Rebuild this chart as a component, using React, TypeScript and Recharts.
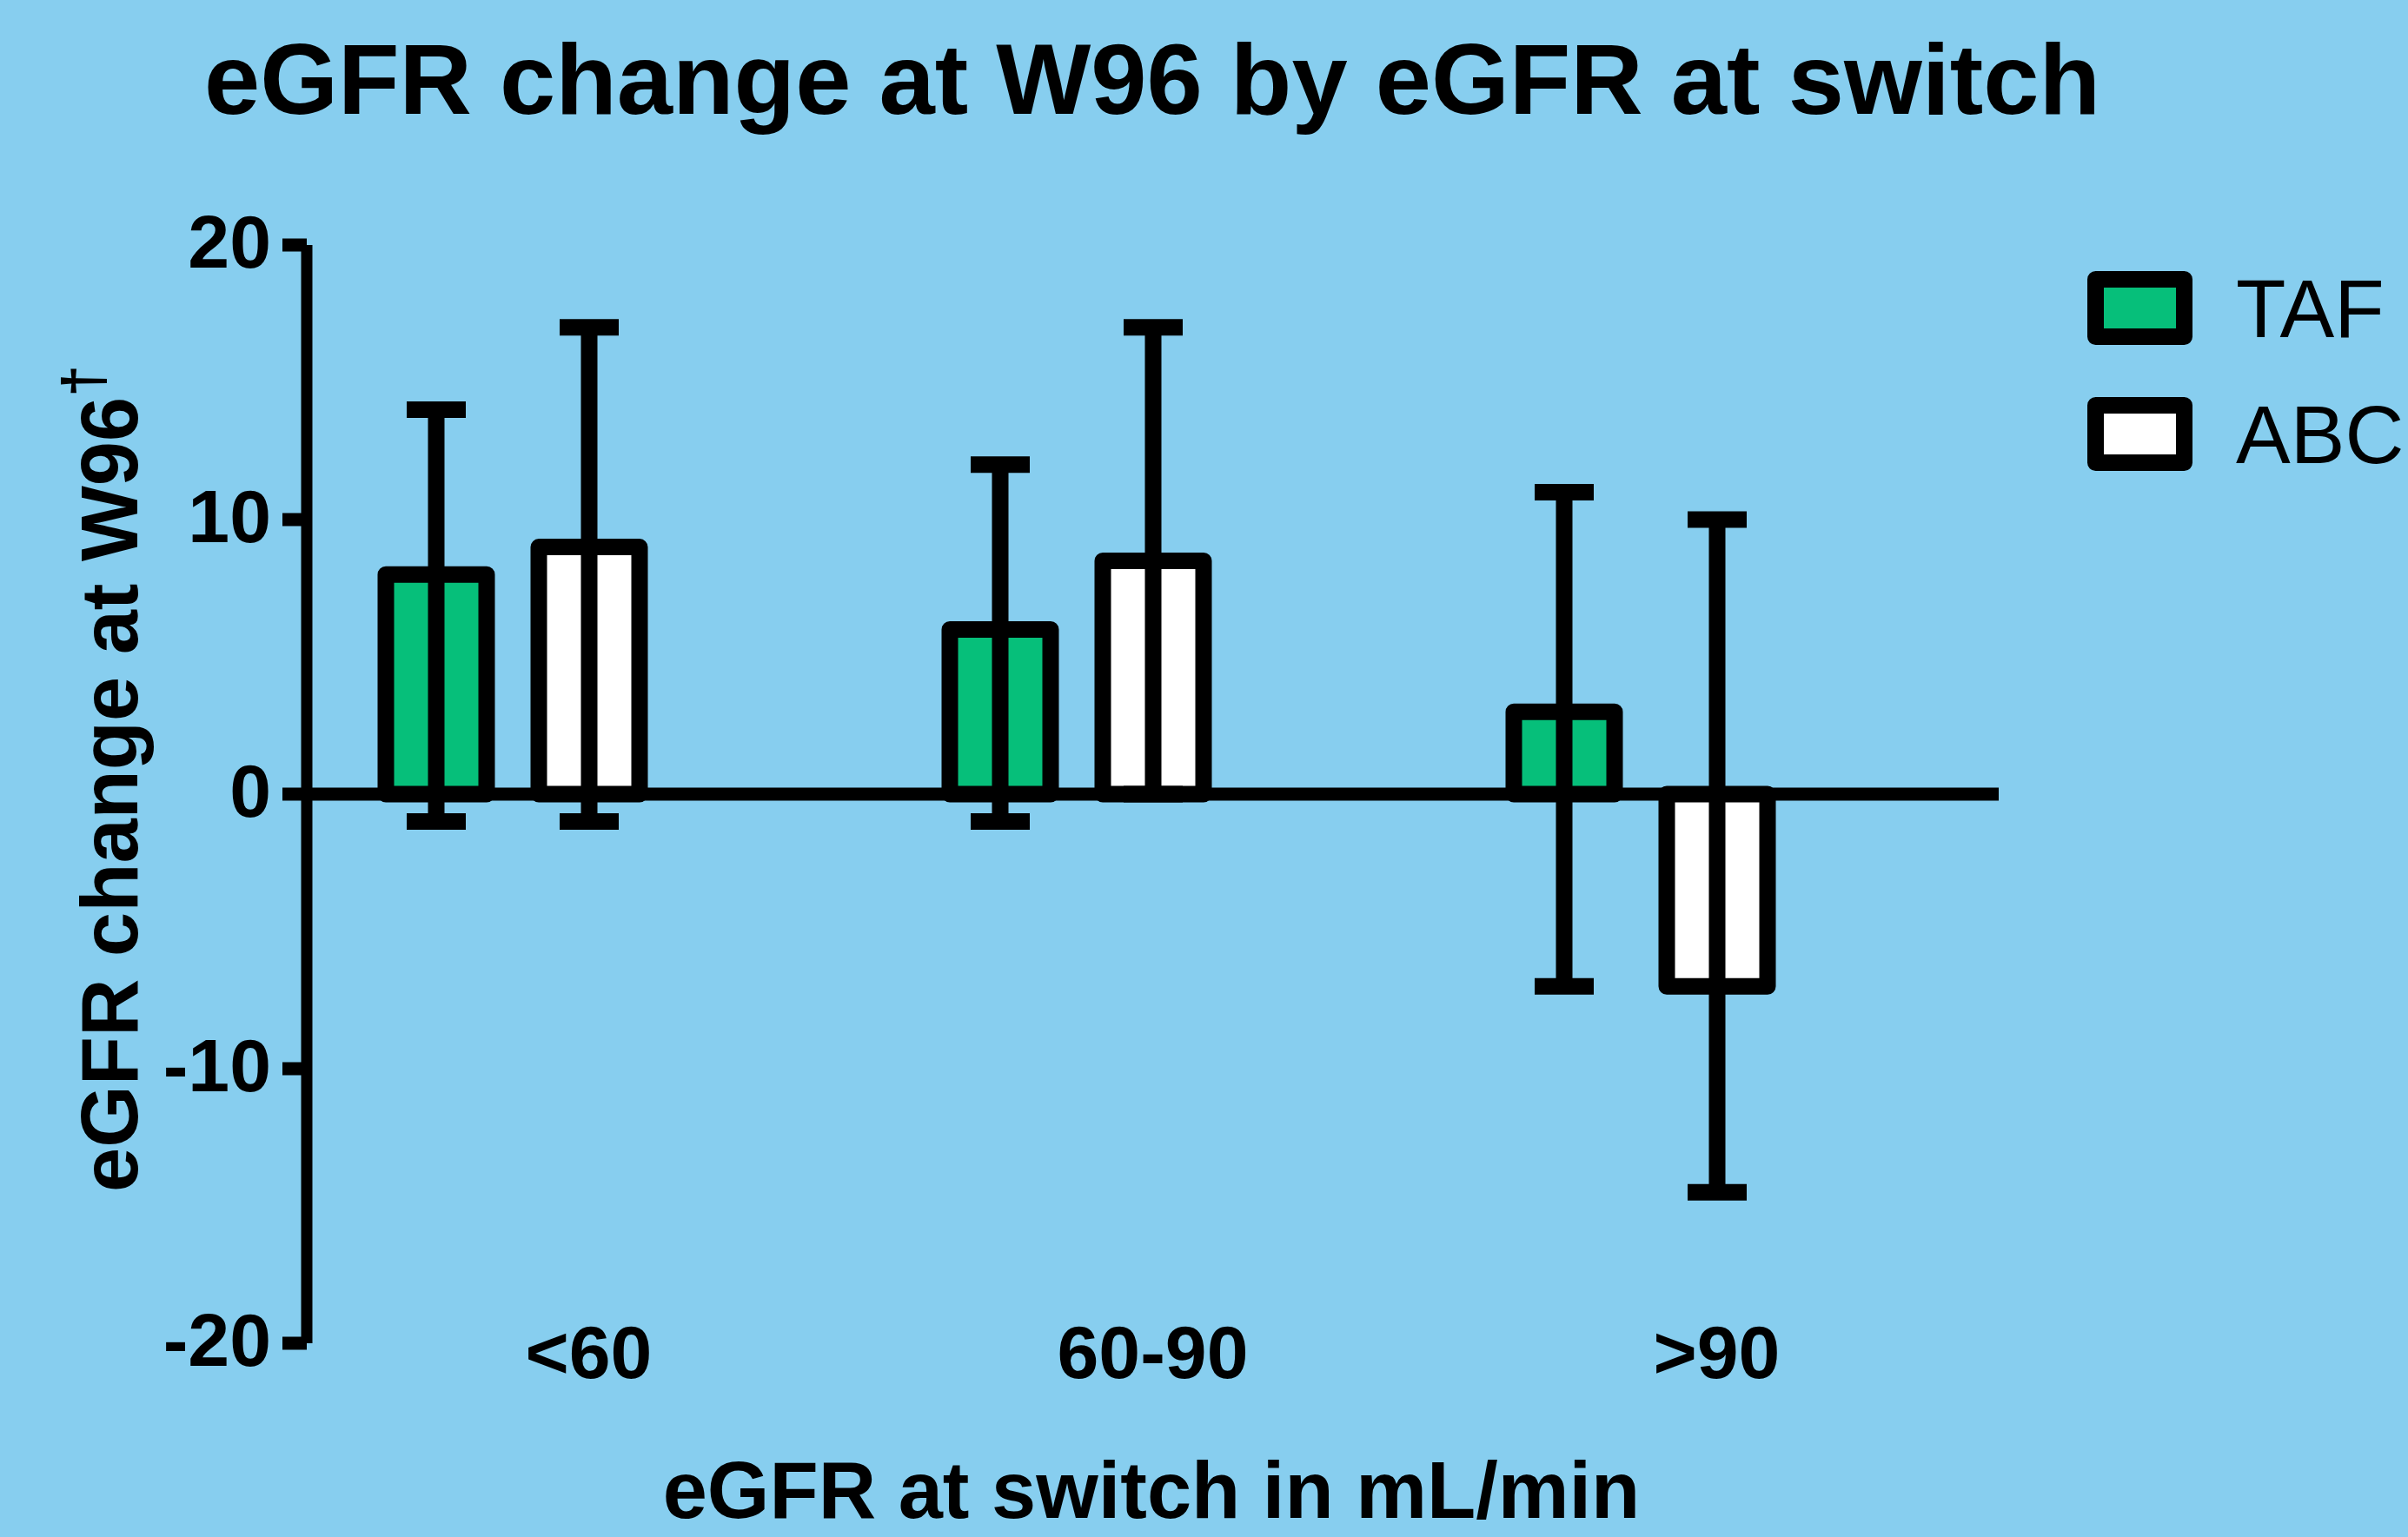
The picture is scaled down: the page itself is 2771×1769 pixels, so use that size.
import { BarChart, Bar, XAxis, YAxis, ErrorBar, ReferenceLine, Legend, Label } from "recharts";

// eGFR change at W96
const categories = ["<60", "60-90", ">90"];
const tafChange = [8, 6, 3];
const tafLower = [-1, -1, -7];
const tafUpper = [14, 12, 11];
const abcChange = [9, 8.5, -7];
const abcLower = [-1, 0, -14.5];
const abcUpper = [17, 17, 10];
const yTicks = [-20, -10, 0, 10, 20];

const seriesNames = ["TAF", "ABC"];
const seriesColors = ["#06bf7a", "#ffffff"];

const data = categories.map((group, i) => ({
  group,
  TAF: tafChange[i],
  tafErr: [tafChange[i] - tafLower[i], tafUpper[i] - tafChange[i]],
  ABC: abcChange[i],
  abcErr: [abcChange[i] - abcLower[i], abcUpper[i] - abcChange[i]],
}));

const font = '"Liberation Sans", Arial, Helvetica, sans-serif';
const bg = "#87ceef";

function YTick({ x, y, payload }: any) {
  return (
    <text x={x} y={y} dy={26} textAnchor="end" fontFamily={font} fontWeight="bold" fontSize={86} fill="#000">
      {payload.value}
    </text>
  );
}

function XTick({ x, y, payload }: any) {
  return (
    <text x={x} y={y} dy={40} textAnchor="middle" fontFamily={font} fontWeight="bold" fontSize={86} fill="#000">
      {payload.value}
    </text>
  );
}

function LegendBox() {
  return (
    <svg width={381} height={260}>
      {seriesNames.map((name, i) => (
        <g key={name} transform={`translate(0, ${i * 145})`}>
          <rect x={21.5} y={21.5} width={102} height={66} fill={seriesColors[i]} stroke="#000" strokeWidth={19} strokeLinejoin="round" />
          <text x={183} y={88} fontFamily={font} fontSize={94} fill="#000">
            {name}
          </text>
        </g>
      ))}
    </svg>
  );
}

function App() {
  return (
    <div style={{ position: "absolute", left: 0, top: 0, width: 2771, height: 1769, background: bg, overflow: "hidden" }}>
      <BarChart
        width={2771}
        height={1769}
        data={data}
        margin={{ top: 282, right: 471, bottom: 163, left: 0 }}
        barSize={116}
        barGap={60}
      >
        <XAxis dataKey="group" axisLine={false} tickLine={false} tickSize={0} tickMargin={0} height={60} interval={0} tick={<XTick />}>
          <Label
            content={() => (
              <text x={1325} y={1747} textAnchor="middle" fontFamily={font} fontWeight="bold" fontSize={92} fill="#000">
                eGFR at switch in mL/min
              </text>
            )}
          />
        </XAxis>
        <YAxis
          width={353}
          domain={[-20, 20]}
          ticks={yTicks}
          axisLine={{ stroke: "#000", strokeWidth: 13 }}
          tickLine={{ stroke: "#000", strokeWidth: 15 }}
          tickSize={28}
          tickMargin={13}
          tick={<YTick />}
        >
          <Label
            content={() => (
              <text transform="translate(158, 896) rotate(-90)" textAnchor="middle" fontFamily={font} fontWeight="bold" fontSize={92} fill="#000">
                eGFR change at W96
                <tspan fontSize={66} dy={-40}>†</tspan>
              </text>
            )}
          />
        </YAxis>
        <ReferenceLine y={0} stroke="#000" strokeWidth={15} />
        <Bar dataKey="TAF" fill={seriesColors[0]} stroke="#000" strokeWidth={19} strokeLinejoin="round" isAnimationActive={false}>
          <ErrorBar dataKey="tafErr" direction="y" width={34} stroke="#000" strokeWidth={19} isAnimationActive={false} />
        </Bar>
        <Bar dataKey="ABC" fill={seriesColors[1]} stroke="#000" strokeWidth={19} strokeLinejoin="round" isAnimationActive={false}>
          <ErrorBar dataKey="abcErr" direction="y" width={34} stroke="#000" strokeWidth={19} isAnimationActive={false} />
        </Bar>
        {/* empty slot so the pair sits left of the category centre, as in the original */}
        <Bar dataKey="gap" fill="none" stroke="none" legendType="none" isAnimationActive={false} />
        <Legend
          layout="horizontal"
          align="center"
          verticalAlign="middle"
          wrapperStyle={{ position: "absolute", left: 2390, top: 300, width: 381, height: 260 }}
          content={<LegendBox />}
        />
      </BarChart>
      <svg width={2771} height={200} style={{ position: "absolute", left: 0, top: 0, pointerEvents: "none" }}>
        <text x={1326} y={131} textAnchor="middle" fontFamily={font} fontWeight="bold" fontSize={115.5} fill="#000">
          eGFR change at W96 by eGFR at switch
        </text>
      </svg>
    </div>
  );
}

export default App;
